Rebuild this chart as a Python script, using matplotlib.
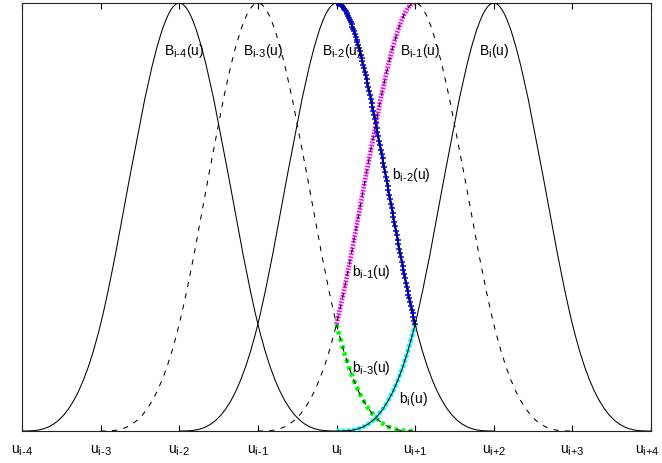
import numpy as np
import matplotlib
matplotlib.use('Agg')
import matplotlib.pyplot as plt
from matplotlib.path import Path
from matplotlib.patches import PathPatch
from matplotlib.bezier import BezierSegment
import matplotlib.transforms as mtransforms
import matplotlib._mathtext as mathtext_internal

# subscripts in the original are a bit larger than mathtext's default
mathtext_internal.SHRINK_FACTOR = 0.8

plt.rcParams['font.family'] = ['Liberation Sans', 'DejaVu Sans']
plt.rcParams['mathtext.fontset'] = 'custom'
plt.rcParams['mathtext.rm'] = 'Liberation Sans'
plt.rcParams['mathtext.it'] = 'Liberation Sans:italic'
plt.rcParams['mathtext.default'] = 'regular'

# knot positions (u_i at 0) and their labels
knots = [-4, -3, -2, -1, 0, 1, 2, 3, 4]
knot_labels = [r'$u_{i\text{-}4}$', r'$u_{i\text{-}3}$', r'$u_{i\text{-}2}$',
               r'$u_{i\text{-}1}$', r'$u_{i}$', r'$u_{i\text{+}1}$',
               r'$u_{i\text{+}2}$', r'$u_{i\text{+}3}$', r'$u_{i\text{+}4}$']

# one basis bump over 4 spans, as cubic bezier control heights (peak = 1)
bump_ctrl = [0, 0, 0, 0.25, 0.5, 1, 1, 1, 0.5, 0.25, 0, 0, 0]

# the five basis functions: first knot of each
bump_starts = [-4, -3, -2, -1, 0]
bump_names = [r'$B_{i\text{-}4}(u)$', r'$B_{i\text{-}3}(u)$', r'$B_{i\text{-}2}(u)$',
              r'$B_{i\text{-}1}(u)$', r'$B_{i}(u)$']

# pieces on [u_i, u_i+1]: (bump index, span index)
seg_bump = [1, 2, 3, 4]
seg_span = [3, 2, 1, 0]
seg_names = [r'$b_{i\text{-}3}(u)$', r'$b_{i\text{-}2}(u)$',
             r'$b_{i\text{-}1}(u)$', r'$b_{i}(u)$']


def bump_verts(start, first=0, n=4):
    i0, i1 = 3 * first, 3 * (first + n)
    xs = start + np.arange(i0, i1 + 1) / 3.0
    ys = np.array(bump_ctrl[i0:i1 + 1], dtype=float)
    return np.column_stack([xs, ys])


def bump_path(start, first=0, n=4):
    v = bump_verts(start, first, n)
    codes = [Path.MOVETO] + [Path.CURVE4] * (len(v) - 1)
    return Path(v, codes)


fig = plt.figure(figsize=(6.62, 4.64), dpi=100)
ax = fig.add_axes([22 / 662, 32 / 464, 629 / 662, 428 / 464])

# coloured pieces first, black curves on top
seg_styles = [
    dict(edgecolor='#00ff00', lw=3.3, linestyle=(0, (0.8, 0.8)), capstyle='butt'),
    dict(edgecolor='#0000ff', lw=1.5),
    dict(edgecolor='#ff00ff', lw=3.4, linestyle=(0, (0.35, 0.3)), capstyle='butt'),
    dict(edgecolor='#00ffff', lw=3.3, linestyle=(0, (0.8, 0.35)), capstyle='butt'),
]
for b, s, st in zip(seg_bump, seg_span, seg_styles):
    ax.add_patch(PathPatch(bump_path(bump_starts[b], s, 1), fill=False, zorder=2, **st))

# blue '+' markers along b_{i-2}
blue = BezierSegment(bump_verts(bump_starts[2], 2, 1))
pts = blue(np.linspace(0, 1, 95))
ax.plot(pts[:, 0], pts[:, 1], '+', color='#0000ff', ms=5, mew=1.1, zorder=2)

for k, st in enumerate(bump_starts):
    ls = '-' if k % 2 == 0 else (0, (5, 6))
    ax.add_patch(PathPatch(bump_path(st), fill=False, edgecolor='black',
                           lw=0.75, linestyle=ls, zorder=3))
    ax.text(st + 2 - 0.19, 0.89, bump_names[k], fontsize=10, ha='left', va='center')

seg_label_pos = [(0.198, 0.150), (0.707, 0.600), (0.198, 0.374), (0.796, 0.077)]
for (x, y), name in zip(seg_label_pos, seg_names):
    ax.text(x, y, name, fontsize=10, ha='left', va='center')

ax.set_xlim(-4, 4)
ax.set_ylim(0, 1)
ax.set_xticks(knots)
ax.set_xticklabels(knot_labels)
ax.set_yticks([])
ax.tick_params(axis='x', direction='in', top=True, length=4, width=0.8,
               labelsize=10, pad=8)
for sp in ax.spines.values():
    sp.set_linewidth(0.8)
    sp.set_color('#222222')

# keep the last knot label inside the figure
last = ax.get_xticklabels()[-1]
last.set_transform(last.get_transform() +
                   mtransforms.ScaledTranslation(-3 / 72, 0, fig.dpi_scale_trans))

fig.savefig('out.png', dpi=100)
